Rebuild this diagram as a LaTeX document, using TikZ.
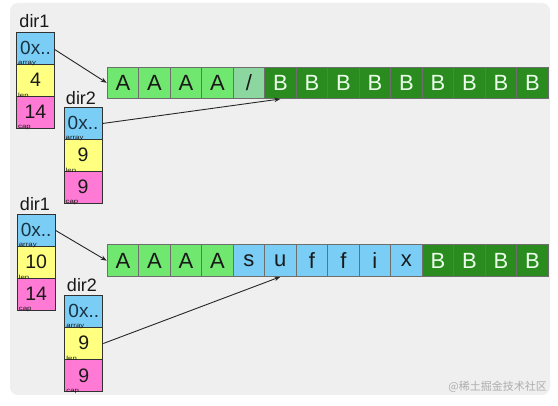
\documentclass[tikz,border=0pt]{standalone}
\usepackage{fontspec}
\usepackage{graphicx}
\setmainfont{Liberation Sans}
\newfontfamily\cjkfont{Noto Sans CJK SC}
\usetikzlibrary{arrows.meta,positioning}
\definecolor{bgc}{HTML}{EFEFEF}
\definecolor{lgreen}{RGB}{112,232,112}
\definecolor{slashc}{RGB}{140,214,160}
\definecolor{dgreen}{RGB}{42,140,30}
\definecolor{lblue}{RGB}{122,206,246}
\definecolor{lyellow}{RGB}{255,255,128}
\definecolor{lpink}{RGB}{255,122,212}
\definecolor{cellline}{RGB}{110,110,110}
\definecolor{boxline}{RGB}{50,50,50}
\definecolor{txt}{RGB}{25,25,25}
\definecolor{addr}{RGB}{25,50,65}
\newcommand{\widesmall}[1]{\scalebox{1.3}[1]{#1}}
\tikzset{
  cell/.style={draw=cellline, line width=0.8pt, minimum width=31.5pt, minimum height=31.5pt,
    inner sep=0pt, anchor=north west, font=\fontsize{22}{22}\selectfont, text=txt},
  cA/.style={cell, fill=lgreen},
  cS/.style={cell, fill=slashc},
  cB/.style={cell, fill=dgreen, text=white!92!green},
  cU/.style={cell, fill=lblue},
  fld/.style={draw=boxline, line width=1pt, minimum width=38pt, minimum height=32pt,
    inner sep=0pt, anchor=north west, text=txt, font=\fontsize{19.5}{19.5}\selectfont,
    text depth=1.5pt},
  farr/.style={fld, fill=lblue, text=addr, font=\fontsize{19}{19}\selectfont},
  flen/.style={fld, fill=lyellow},
  fcap/.style={fld, fill=lpink},
  tiny/.style={font=\fontsize{6}{6}\selectfont, inner sep=0pt, anchor=south west, text=txt},
  dirlbl/.style={font=\fontsize{18}{18}\selectfont, inner sep=0pt, text=txt},
  ptr/.style={draw=black!85, line width=0.9pt, -{Stealth[length=6pt,width=4.5pt]}}
}
\begin{document}
\begin{tikzpicture}[x=1pt,y=-1pt]
\useasboundingbox (0,0) rectangle (558,406);
\fill[bgc, rounded corners=8pt] (10,3) rectangle (550,395);

% top array
\foreach \t/\s [count=\i from 0] in {A/cA,A/cA,A/cA,A/cA,{/}/cS,B/cB,B/cB,B/cB,B/cB,B/cB,B/cB,B/cB,B/cB,B/cB}
  \node[\s] (t\i) at ({106.7+31.5*\i},66.7) {\t};
% bottom array
\foreach \t/\s [count=\i from 0] in {A/cA,A/cA,A/cA,A/cA,s/cU,u/cU,f/cU,f/cU,i/cU,x/cU,B/cB,B/cB,B/cB,B/cB}
  \node[\s] (b\i) at ({106.7+31.5*\i},244.5) {\t};

% boxes: top dir1
\node[farr] (pa) at (16,31.7) {0x..};
\node[flen] (pl) at (16,63.7) {4};
\node[fcap] (pc) at (16,95.7) {14};
\node[tiny] (pat) at ([xshift=2pt,yshift=-1pt]pa.south west) {\widesmall{array}};
\node[tiny] (plt) at ([xshift=2pt,yshift=-1pt]pl.south west) {\widesmall{len}};
\node[tiny] (pct) at ([xshift=2pt,yshift=-1pt]pc.south west) {\widesmall{cap}};
\node[dirlbl] (pd) at (34.5,21) {dir1};

% top dir2
\node[farr] (qa) at (63.5,107) {0x..};
\node[flen] (ql) at (63.5,139) {9};
\node[fcap] (qc) at (63.5,171) {9};
\node[tiny] (qat) at ([xshift=2pt,yshift=-1pt]qa.south west) {\widesmall{array}};
\node[tiny] (qlt) at ([xshift=2pt,yshift=-1pt]ql.south west) {\widesmall{len}};
\node[tiny] (qct) at ([xshift=2pt,yshift=-1pt]qc.south west) {\widesmall{cap}};
\node[dirlbl] (qd) at (81,98) {dir2};

% bottom dir1
\node[farr] (ra) at (16.7,214) {0x..};
\node[flen] (rl) at (16.7,246) {10};
\node[fcap] (rc) at (16.7,278) {14};
\node[tiny] (rat) at ([xshift=2pt,yshift=-1pt]ra.south west) {\widesmall{array}};
\node[tiny] (rlt) at ([xshift=2pt,yshift=-1pt]rl.south west) {\widesmall{len}};
\node[tiny] (rct) at ([xshift=2pt,yshift=-1pt]rc.south west) {\widesmall{cap}};
\node[dirlbl] (rd) at (35,204) {dir1};

% bottom dir2
\node[farr] (sa) at (64.3,295) {0x..};
\node[flen] (sl) at (64.3,327) {9};
\node[fcap] (sc) at (64.3,359.5) {9};
\node[tiny] (sat) at ([xshift=2pt,yshift=-1pt]sa.south west) {\widesmall{array}};
\node[tiny] (slt) at ([xshift=2pt,yshift=-1pt]sl.south west) {\widesmall{len}};
\node[tiny] (sct) at ([xshift=2pt,yshift=-1pt]sc.south west) {\widesmall{cap}};
\node[dirlbl] (sd) at (82,285) {dir2};

% pointers
\draw[ptr] ([yshift=-1.5pt]pa.east) -- (t0.west);
\draw[ptr] (qa.east) -- (t5.south);
\draw[ptr] (ra.east) -- (b0.west);
\draw[ptr] (sl.east) -- (b5.south);

% watermark
\node[anchor=south east, inner sep=0pt, text=black!32, font=\cjkfont\fontsize{11}{11}\selectfont] (wm) at (547,393) {@稀土掘金技术社区};
\end{tikzpicture}
\end{document}
